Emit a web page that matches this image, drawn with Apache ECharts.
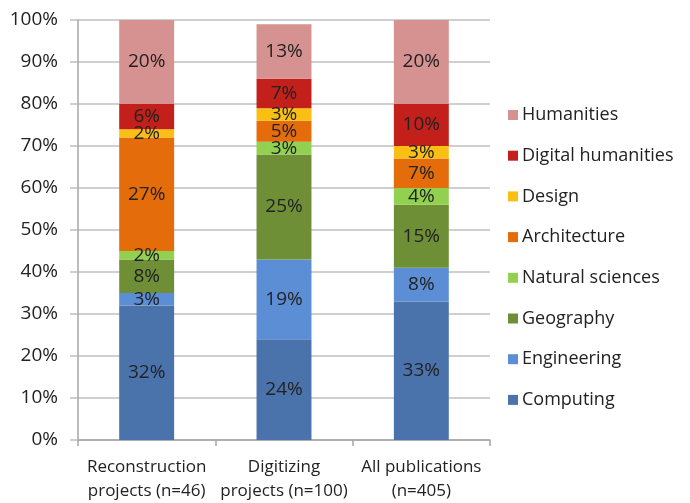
<!DOCTYPE html>
<html>
<head>
<meta charset="utf-8">
<script src="https://cdn.jsdelivr.net/npm/echarts@6/dist/echarts.min.js"></script>
<style>
  html, body { margin: 0; padding: 0; background: #ffffff; }
  #chart { width: 690px; height: 503px; }
</style>
</head>
<body>
<div id="chart"></div>
<script>
// Categories along the x axis (two-line labels)
const categories = [
  'Reconstruction\nprojects (n=46)',
  'Digitizing\nprojects (n=100)',
  'All publications\n(n=405)'
];

// Share of each discipline per group, in percent (stacked bottom to top)
const computing        = [32, 24, 33];
const engineering      = [3, 19, 8];
const geography        = [8, 25, 15];
const naturalSciences  = [2, 3, 4];
const architecture     = [27, 5, 7];
const design           = [2, 3, 3];
const digitalHumanities = [6, 7, 10];
const humanities       = [20, 13, 20];

const seriesNames = ['Computing', 'Engineering', 'Geography', 'Natural sciences',
  'Architecture', 'Design', 'Digital humanities', 'Humanities'];
const seriesData = [computing, engineering, geography, naturalSciences,
  architecture, design, digitalHumanities, humanities];
const seriesColors = ['#4A73AC', '#5B8ED4', '#6E8F36', '#92D050',
  '#E46C0A', '#F9C013', '#C3201B', '#D69191'];

// y axis tick values
const yTicks = [0, 10, 20, 30, 40, 50, 60, 70, 80, 90, 100];

const fontFamily = '"Open Sans", "Noto Sans", sans-serif';
const textColor = '#222222';

const chart = echarts.init(document.getElementById('chart'), null, { renderer: 'canvas' });

chart.setOption({
  animation: false,
  backgroundColor: '#ffffff',
  grid: { left: 78, right: 200, top: 20, bottom: 63, containLabel: false },
  legend: {
    orient: 'vertical',
    left: 503,
    top: 100,
    itemWidth: 10,
    itemHeight: 10,
    itemGap: 20.7,
    icon: 'rect',
    data: seriesNames.slice().reverse(),
    textStyle: { fontFamily, fontSize: 18, color: textColor, lineHeight: 20, padding: [0, 0, 0, -1] }
  },
  xAxis: {
    type: 'category',
    data: categories,
    axisLine: { show: true, lineStyle: { color: '#A6A6A6', width: 1.5 } },
    axisTick: { show: true, length: 6, alignWithLabel: false, lineStyle: { color: '#A6A6A6', width: 1.5 } },
    axisLabel: {
      fontFamily, fontSize: 17, color: textColor, lineHeight: 24, margin: 15,
      interval: 0
    }
  },
  yAxis: {
    type: 'value',
    min: 0,
    max: 100,
    interval: 10,
    axisLine: { show: true, lineStyle: { color: '#A6A6A6', width: 1.5 } },
    axisTick: { show: true, length: 8, lineStyle: { color: '#BFBFBF', width: 1.5 } },
    splitLine: { show: true, lineStyle: { color: '#BFBFBF', width: 1.5 } },
    axisLabel: {
      fontFamily, fontSize: 19, color: textColor, margin: 20,
      formatter: v => (yTicks.indexOf(v) >= 0 ? v + '%' : '')
    }
  },
  series: seriesNames.map((name, i) => ({
    name,
    type: 'bar',
    stack: 'share',
    barWidth: '40%',
    data: seriesData[i],
    itemStyle: { color: seriesColors[i] },
    label: {
      show: true,
      position: 'inside',
      formatter: p => p.value + '%',
      fontFamily,
      fontSize: 19,
      color: textColor
    }
  }))
});
</script>
</body>
</html>
